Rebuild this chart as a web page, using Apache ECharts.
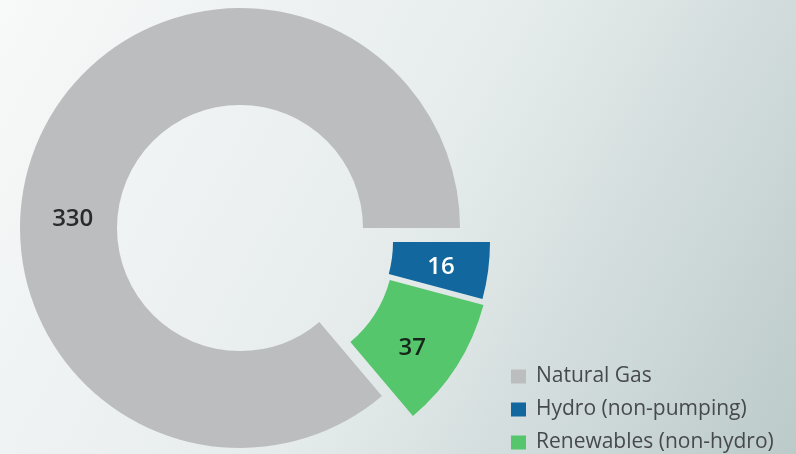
<!DOCTYPE html>
<html>
<head>
<meta charset="utf-8">
<script src="https://cdn.jsdelivr.net/npm/echarts@6/dist/echarts.min.js"></script>
<style>
  html, body { margin: 0; padding: 0; }
  #chart { width: 796px; height: 454px; }
</style>
</head>
<body>
<div id="chart"></div>
<script>
// ---- data ----
const names = ['Natural Gas', 'Hydro (non-pumping)', 'Renewables (non-hydro)'];
const values = [330, 16, 37];
const colors = ['#bcbdbf', '#11679e', '#56c66c'];
const drawOrder = [1, 2, 0];                 // clockwise from 3 o'clock

// each slice gets its own pie so the two small ones can be pulled out
const centers = [[240, 228], [270, 242], [271, 248]];
const labelColors = ['#2a2a2a', '#ffffff', '#17261a'];
const labelOffsets = [[-9, 65], [-2, 2], [-6, 7]];

const chart = echarts.init(document.getElementById('chart'));

function sliceSeries(k) {
  return {
    type: 'pie',
    center: centers[k],
    radius: [123, 220],
    startAngle: 0,
    clockwise: true,
    silent: true,
    animation: false,
    labelLine: { show: false },
    emphasis: { disabled: true },
    data: drawOrder.map((i) => ({
      name: names[i],
      value: values[i],
      itemStyle: { color: i === k ? colors[i] : 'transparent' },
      label: i === k ? {
        show: true,
        position: 'inside',
        formatter: '{c}',
        color: labelColors[i],
        fontFamily: 'Open Sans',
        fontWeight: 600,
        fontSize: 24,
        offset: labelOffsets[i],
      } : { show: false },
    })),
  };
}

chart.setOption({
  backgroundColor: new echarts.graphic.LinearGradient(0, 0, 1, 1, [
    { offset: 0, color: '#f8f9f9' },
    { offset: 0.5, color: '#e6ecec' },
    { offset: 1, color: '#bccaca' },
  ]),
  // horizontal + narrow width => one item per row, and rows may run past the bottom edge
  legend: {
    orient: 'horizontal',
    left: 506,
    top: 361,
    width: 285,
    icon: 'rect',
    itemWidth: 15,
    itemHeight: 14,
    itemGap: 12,
    selectedMode: false,
    textStyle: { color: '#474a4c', fontFamily: 'Open Sans', fontSize: 21, padding: [0, 0, 0, 5] },
    data: names.map((n, i) => ({ name: n, itemStyle: { color: colors[i] } })),
  },
  series: [0, 1, 2].map(sliceSeries),
});
</script>
</body>
</html>
